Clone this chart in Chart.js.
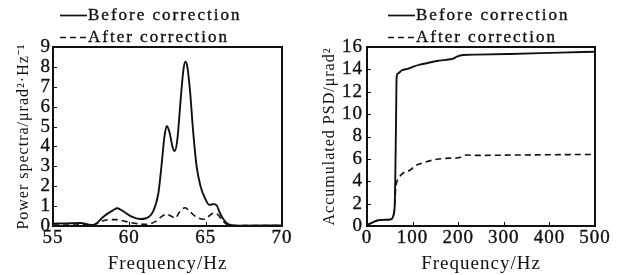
<!DOCTYPE html>
<html>
<head>
<meta charset="utf-8">
<script src="https://cdn.jsdelivr.net/npm/chart.js@4.4.1/dist/chart.umd.min.js"></script>
<style>
  html, body { margin: 0; padding: 0; background: #fff; }
  #wrap { position: relative; width: 617px; height: 275px; overflow: hidden; background: #fff; }
  canvas { position: absolute; top: 0; }
  #c1 { left: 0; }
  #c2 { left: 310px; }
</style>
</head>
<body>
<div id="wrap">
  <canvas id="c1" width="310" height="275"></canvas>
  <canvas id="c2" width="307" height="275"></canvas>
</div>
<script>
// ---------- data ----------
const seriesNames = ['Before correction', 'After correction'];

const psdBeforeHz = [55.0, 55.8, 56.8, 57.5, 57.75, 58.3, 58.95, 59.2, 59.6, 60.15, 60.7, 61.1, 61.55, 61.9, 62.1, 62.3, 62.45, 62.62, 62.84, 62.97, 63.14, 63.36, 63.54, 63.67, 63.8, 63.97, 64.19, 64.41, 64.67, 64.96, 65.24, 65.5, 65.72, 65.94, 66.2, 66.5, 67.0, 70.0];
const psdBefore   = [0.12, 0.13, 0.15, 0.05, 0.08, 0.47, 0.80, 0.89, 0.74, 0.47, 0.35, 0.39, 0.72, 1.64, 2.98, 4.49, 5.03, 4.74, 3.95, 3.77, 4.32, 6.33, 7.84, 8.26, 8.0, 6.83, 4.66, 2.98, 1.98, 1.39, 1.06, 1.10, 1.04, 0.64, 0.30, 0.08, 0.02, 0.03];

const psdAfterHz = [55.0, 56.5, 57.6, 58.1, 58.7, 59.17, 59.8, 60.5, 61.1, 61.7, 62.1, 62.45, 62.8, 63.0, 63.3, 63.65, 63.97, 64.41, 64.85, 65.17, 65.5, 65.83, 66.16, 66.5, 67.0, 70.0];
const psdAfter   = [0.10, 0.10, 0.03, 0.22, 0.32, 0.32, 0.22, 0.12, 0.08, 0.22, 0.47, 0.59, 0.47, 0.39, 0.72, 0.92, 0.72, 0.44, 0.34, 0.47, 0.64, 0.55, 0.22, 0.05, 0.02, 0.02];

const accBeforeHz = [0, 10, 21, 28.5, 43, 54, 57.7, 60.7, 62, 63.6, 65, 68.7, 76, 90.6, 101.6, 116, 131, 153, 182, 189, 197, 211, 240, 314, 423, 500];
const accBefore   = [0.09, 0.27, 0.47, 0.53, 0.56, 0.62, 0.92, 1.8, 4.2, 9.2, 13.36, 13.66, 13.9, 14.07, 14.25, 14.43, 14.55, 14.75, 14.9, 14.96, 15.14, 15.29, 15.32, 15.38, 15.5, 15.58];

const accAfterHz = [0, 10, 21, 28.5, 43, 54, 57.7, 60.7, 62, 63.6, 65, 68.7, 76, 83, 94, 105, 123.5, 153, 182, 200, 218.6, 240, 314, 500];
const accAfter   = [0.09, 0.27, 0.47, 0.53, 0.56, 0.62, 0.9, 1.7, 2.8, 3.6, 3.9, 4.24, 4.62, 4.83, 4.98, 5.36, 5.66, 5.96, 6.07, 6.1, 6.34, 6.31, 6.34, 6.4];

const psdXTicks = [55, 60, 65, 70];
const psdYTicks = [0, 1, 2, 3, 4, 5, 6, 7, 8, 9];
const accXTicks = [0, 100, 200, 300, 400, 500];
const accYTicks = [0, 2, 4, 6, 8, 10, 12, 14, 16];

const psdXTitle = 'Frequency/Hz';
const psdYTitle = 'Power spectra/\u03bcrad\u00b2\u00b7Hz\u207b\u00b9';
const accXTitle = 'Frequency/Hz';
const accYTitle = 'Accumulated PSD/\u03bcrad\u00b2';

// ---------- helpers ----------
const FONT = '"Liberation Serif", "Times New Roman", serif';
const INK = '#111';

function pts(xs, ys) { return xs.map((x, i) => ({ x: x, y: ys[i] })); }

const spacingPlugin = {
  id: 'spacing',
  beforeUpdate(chart) { chart.ctx.letterSpacing = '1px'; },
  beforeDraw(chart) { chart.ctx.letterSpacing = '1px'; }
};

const framePlugin = {
  id: 'frame',
  afterDraw(chart) {
    const ctx = chart.ctx, a = chart.chartArea;
    ctx.save();
    ctx.strokeStyle = INK;
    ctx.lineWidth = 1;
    const xs = chart.scales.x, ys = chart.scales.y;
    xs.ticks.forEach(t => {
      const px = Math.round(xs.getPixelForValue(t.value)) + 0.5;
      ctx.beginPath(); ctx.moveTo(px, a.bottom); ctx.lineTo(px, a.bottom - 4); ctx.stroke();
    });
    ys.ticks.forEach(t => {
      const py = Math.round(ys.getPixelForValue(t.value)) + 0.5;
      ctx.beginPath(); ctx.moveTo(a.left, py); ctx.lineTo(a.left + 4, py); ctx.stroke();
    });
    ctx.lineWidth = 2;
    ctx.strokeRect(a.left, a.top, a.right - a.left, a.bottom - a.top);
    ctx.restore();
  }
};

const legendPlugin = {
  id: 'legendLines',
  afterDraw(chart, args, opts) {
    const ctx = chart.ctx;
    ctx.save();
    ctx.letterSpacing = '2px';
    ctx.font = '17px ' + FONT;
    ctx.fillStyle = INK;
    ctx.textBaseline = 'alphabetic';
    ctx.textAlign = 'left';
    chart.data.datasets.forEach((ds, i) => {
      const ly = opts.y + i * 22;
      ctx.strokeStyle = INK;
      ctx.lineWidth = 1.7;
      ctx.setLineDash(ds.borderDash || []);
      ctx.beginPath();
      ctx.moveTo(opts.x, ly - 4.5);
      ctx.lineTo(opts.x + 27, ly - 4.5);
      ctx.stroke();
      ctx.setLineDash([]);
      ctx.lineWidth = 0.35;
      ctx.fillText(ds.label, opts.x + 28, ly);
      ctx.strokeText(ds.label, opts.x + 28, ly);
    });
    ctx.restore();
  }
};

function makeChart(id, cfg) {
  const sets = [
    { label: seriesNames[0], data: pts(cfg.bx, cfg.by), borderColor: INK, borderWidth: 1.9, borderDash: [] },
    { label: seriesNames[1], data: pts(cfg.ax, cfg.ay), borderColor: INK, borderWidth: 1.6, borderDash: [6, 4] }
  ];
  sets.forEach(s => { s.pointRadius = 0; s.fill = false; s.cubicInterpolationMode = 'monotone'; });
  return new Chart(document.getElementById(id), {
    type: 'line',
    data: { datasets: sets },
    options: {
      responsive: false,
      animation: false,
      devicePixelRatio: 1,
      layout: { padding: { top: 47, right: cfg.padRight, left: 0, bottom: 0 } },
      plugins: {
        legend: { display: false },
        tooltip: { enabled: false },
        legendLines: { x: cfg.legX, y: 20 }
      },
      scales: {
        x: {
          type: 'linear',
          min: cfg.xTicks[0], max: cfg.xTicks[cfg.xTicks.length - 1],
          grid: { display: false, drawTicks: false },
          border: { display: false },
          afterBuildTicks: s => { s.ticks = cfg.xTicks.map(v => ({ value: v })); },
          afterFit: s => { s.height = 49; },
          ticks: { color: INK, font: { family: FONT, size: 19 }, padding: 1, maxRotation: 0, autoSkip: false, textStrokeColor: INK, textStrokeWidth: 0.35 },
          title: { display: true, text: cfg.xTitle, color: INK, font: { family: FONT, size: 19 }, padding: { top: 0, bottom: 0 } }
        },
        y: {
          type: 'linear',
          min: cfg.yTicks[0], max: cfg.yTicks[cfg.yTicks.length - 1],
          grid: { display: false, drawTicks: false },
          border: { display: false },
          afterBuildTicks: s => { s.ticks = cfg.yTicks.map(v => ({ value: v })); },
          afterFit: s => { s.width = cfg.yWidth; },
          ticks: { color: INK, font: { family: FONT, size: 19 }, padding: cfg.yPad, autoSkip: false, textStrokeColor: INK, textStrokeWidth: 0.35 },
          title: { display: true, text: cfg.yTitle, color: INK, font: { family: FONT, size: 16 }, padding: { top: cfg.yTitlePad, bottom: 0 } }
        }
      }
    },
    plugins: [spacingPlugin, framePlugin, legendPlugin]
  });
}

makeChart('c1', {
  bx: psdBeforeHz, by: psdBefore, ax: psdAfterHz, ay: psdAfter,
  xTicks: psdXTicks, yTicks: psdYTicks, xTitle: psdXTitle, yTitle: psdYTitle,
  padRight: 28, yWidth: 53, yPad: 2, yTitlePad: 14, legX: 60
});
makeChart('c2', {
  bx: accBeforeHz, by: accBefore, ax: accAfterHz, ay: accAfter,
  xTicks: accXTicks, yTicks: accYTicks, xTitle: accXTitle, yTitle: accYTitle,
  padRight: 22, yWidth: 57, yPad: 4, yTitlePad: 10, legX: 78
});
</script>
</body>
</html>
